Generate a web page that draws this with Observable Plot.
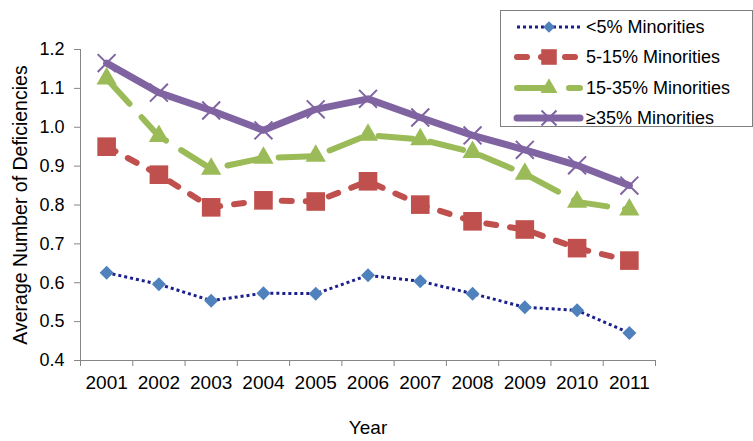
<!DOCTYPE html>
<html>
<head>
<meta charset="utf-8">
<script src="https://cdn.jsdelivr.net/npm/d3@7"></script>
<script src="https://cdn.jsdelivr.net/npm/@observablehq/plot@0.6"></script>
<style>
  html, body { margin: 0; padding: 0; background: #fff; }
  #wrap { position: relative; width: 753px; height: 441px; font-family: "Liberation Sans", Arial, sans-serif; }
  #legend { position: absolute; left: 500px; top: 10px; width: 251px; height: 115px; border: 1px solid #7f7f7f; background: #fff; }
  #legend svg { overflow: visible; }
</style>
</head>
<body>
<div id="wrap"><div id="chart"></div><div id="legend"></div></div>
<script>
// ---- data ----
const years = [2001, 2002, 2003, 2004, 2005, 2006, 2007, 2008, 2009, 2010, 2011];
const seriesNames = ["<5% Minorities", "5-15% Minorities", "15-35% Minorities", "≥35% Minorities"];
const lt5 = [0.626, 0.596, 0.554, 0.573, 0.572, 0.619, 0.604, 0.572, 0.537, 0.529, 0.471];
const m5to15 = [0.950, 0.878, 0.794, 0.812, 0.809, 0.861, 0.801, 0.758, 0.737, 0.689, 0.657];
const m15to35 = [1.125, 0.977, 0.893, 0.921, 0.926, 0.980, 0.969, 0.936, 0.880, 0.808, 0.788];
const ge35 = [1.165, 1.089, 1.043, 0.992, 1.046, 1.073, 1.025, 0.979, 0.942, 0.902, 0.850];
const yTicks = [0.4, 0.5, 0.6, 0.7, 0.8, 0.9, 1.0, 1.1, 1.2];
const xLabel = "Year";
const yLabel = "Average Number of Deficiencies";

// ---- styles ----
const styles = [
  {line: "#1b1f8a", width: 3, dash: "3,3", cap: "butt", symbol: "diamond2", d3sym: d3.symbolDiamond2, r: 6.3, fill: "#4f81bd", stroke: "none", sw: 0},
  {line: "#c0504d", width: 6, dash: "10,14", cap: "round", symbol: "square", d3sym: d3.symbolSquare, r: 10.5, fill: "#c0504d", stroke: "none", sw: 0},
  {line: "#9bbb59", width: 6, dash: "34,18", cap: "round", symbol: "triangle", d3sym: d3.symbolTriangle, r: 7.5, fill: "#9bbb59", stroke: "none", sw: 0},
  {line: "#8064a2", width: 7, dash: null, cap: "round", symbol: "times", d3sym: d3.symbolTimes, r: 8.2, fill: "none", stroke: "#8064a2", sw: 2}
];
const allValues = [lt5, m5to15, m15to35, ge35];
const seriesData = allValues.map((vals, s) => years.map((yr, i) => ({year: yr, value: vals[i], series: seriesNames[s]})));
const boundaries = [years[0] - 0.5, ...years.map(y => y + 0.5)];

const marks = [];
seriesData.forEach((rows, s) => {
  const st = styles[s];
  marks.push(Plot.line(rows, {x: "year", y: "value", stroke: st.line, strokeWidth: st.width,
    strokeDasharray: st.dash || undefined, strokeLinecap: st.cap, strokeLinejoin: "round"}));
  marks.push(Plot.dot(rows, {x: "year", y: "value", symbol: st.symbol, r: st.r,
    fill: st.fill, stroke: st.stroke, strokeWidth: st.sw}));
});

const axisGray = "#868686";
const chart = Plot.plot({
  width: 753,
  height: 441,
  marginLeft: 80,
  marginRight: 98,
  marginTop: 49,
  marginBottom: 81,
  style: {fontSize: "18px", fontFamily: "Liberation Sans, Arial, sans-serif", color: "#000", background: "#fff"},
  x: {type: "linear", domain: [boundaries[0], boundaries[boundaries.length - 1]]},
  y: {domain: [yTicks[0], yTicks[yTicks.length - 1]]},
  marks: [
    Plot.ruleX([boundaries[0]], {stroke: axisGray, strokeWidth: 1}),
    Plot.ruleY([yTicks[0]], {stroke: axisGray, strokeWidth: 1}),
    Plot.axisY(yTicks, {tickSize: 6, tickPadding: 10, stroke: axisGray, fill: "#000", fontSize: 18,
      tickFormat: d3.format(".1f"), label: null}),
    Plot.axisY(yTicks, {tickSize: 0, tickFormat: () => "", fontSize: 19.5, fill: "#000",
      label: yLabel, labelAnchor: "center", labelOffset: 67, labelArrow: false}),
    Plot.axisX(boundaries, {tickSize: 6, stroke: axisGray, tickFormat: () => "", label: null}),
    Plot.axisX(years, {tickSize: 0, tickPadding: 15, fill: "#000", fontSize: 19, tickFormat: d => String(d),
      label: xLabel, labelAnchor: "center", labelOffset: 73, labelArrow: false}),
    ...marks
  ]
});
document.getElementById("chart").appendChild(chart);

// ---- legend ----
const lg = d3.select("#legend").append("svg").attr("width", 251).attr("height", 115)
  .style("font-family", "Liberation Sans, Arial, sans-serif").style("font-size", "18px");
const rowY = [16, 46, 77, 107];
seriesNames.forEach((name, s) => {
  const st = styles[s];
  const g = lg.append("g").attr("transform", `translate(0,${rowY[s]})`);
  g.append("line").attr("x1", 16).attr("x2", 79).attr("y1", 0).attr("y2", 0)
    .attr("stroke", st.line).attr("stroke-width", st.width)
    .attr("stroke-dasharray", st.dash || null).attr("stroke-linecap", st.cap);
  g.append("path").attr("transform", "translate(48,0)")
    .attr("d", d3.symbol().type(st.d3sym).size(Math.PI * st.r * st.r * 0.7)())
    .attr("fill", st.fill).attr("stroke", st.stroke).attr("stroke-width", st.sw);
  g.append("text").attr("x", 85).attr("y", 0).attr("dy", "0.35em").attr("fill", "#000").text(name);
});
</script>
</body>
</html>
